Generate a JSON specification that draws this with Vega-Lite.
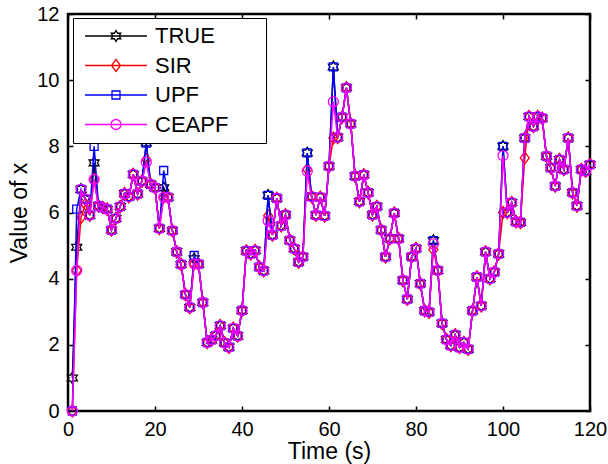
{
  "$schema": "https://vega.github.io/schema/vega-lite/v6.json",
  "width": 522,
  "height": 397,
  "autosize": "none",
  "padding": {"left": 68, "top": 14, "right": 18, "bottom": 53},
  "background": "white",
  "data": {"values": [
    {"t":1,"TRUE":1.0,"SIR":0,"UPF":0,"CEAPF":0},
    {"t":2,"TRUE":4.95,"SIR":4.25,"UPF":6.1,"CEAPF":4.25},
    {"t":3,"TRUE":6.7,"SIR":5.85,"UPF":6.7,"CEAPF":6.7},
    {"t":4,"TRUE":6.4,"SIR":6.25,"UPF":6.4,"CEAPF":6.4},
    {"t":5,"TRUE":5.92,"SIR":5.92,"UPF":5.92,"CEAPF":5.92},
    {"t":6,"TRUE":7.5,"SIR":7.0,"UPF":8.0,"CEAPF":7.0},
    {"t":7,"TRUE":6.2,"SIR":6.2,"UPF":6.2,"CEAPF":6.2},
    {"t":8,"TRUE":6.15,"SIR":6.15,"UPF":6.15,"CEAPF":6.15},
    {"t":9,"TRUE":6.1,"SIR":6.1,"UPF":6.1,"CEAPF":6.1},
    {"t":10,"TRUE":5.47,"SIR":5.47,"UPF":5.47,"CEAPF":5.47},
    {"t":11,"TRUE":5.82,"SIR":5.82,"UPF":5.82,"CEAPF":5.82},
    {"t":12,"TRUE":6.18,"SIR":6.18,"UPF":6.18,"CEAPF":6.18},
    {"t":13,"TRUE":6.57,"SIR":6.57,"UPF":6.57,"CEAPF":6.57},
    {"t":14,"TRUE":6.48,"SIR":6.48,"UPF":6.48,"CEAPF":6.48},
    {"t":15,"TRUE":7.15,"SIR":7.15,"UPF":7.15,"CEAPF":7.15},
    {"t":16,"TRUE":6.56,"SIR":6.56,"UPF":6.56,"CEAPF":6.56},
    {"t":17,"TRUE":6.95,"SIR":6.95,"UPF":6.95,"CEAPF":6.95},
    {"t":18,"TRUE":8.1,"SIR":7.6,"UPF":8.1,"CEAPF":7.52},
    {"t":19,"TRUE":6.85,"SIR":6.85,"UPF":6.85,"CEAPF":6.85},
    {"t":20,"TRUE":6.75,"SIR":6.75,"UPF":6.75,"CEAPF":6.75},
    {"t":21,"TRUE":5.52,"SIR":5.52,"UPF":5.52,"CEAPF":5.52},
    {"t":22,"TRUE":6.75,"SIR":6.46,"UPF":7.27,"CEAPF":6.46},
    {"t":23,"TRUE":6.46,"SIR":6.46,"UPF":6.46,"CEAPF":6.46},
    {"t":24,"TRUE":5.45,"SIR":5.45,"UPF":5.45,"CEAPF":5.45},
    {"t":25,"TRUE":4.81,"SIR":4.81,"UPF":4.81,"CEAPF":4.81},
    {"t":26,"TRUE":4.43,"SIR":4.43,"UPF":4.43,"CEAPF":4.43},
    {"t":27,"TRUE":3.52,"SIR":3.52,"UPF":3.52,"CEAPF":3.52},
    {"t":28,"TRUE":3.13,"SIR":3.13,"UPF":3.13,"CEAPF":3.13},
    {"t":29,"TRUE":4.6,"SIR":4.45,"UPF":4.7,"CEAPF":4.45},
    {"t":30,"TRUE":4.44,"SIR":4.44,"UPF":4.44,"CEAPF":4.44},
    {"t":31,"TRUE":3.28,"SIR":3.28,"UPF":3.28,"CEAPF":3.28},
    {"t":32,"TRUE":2.07,"SIR":2.07,"UPF":2.07,"CEAPF":2.07},
    {"t":33,"TRUE":2.15,"SIR":2.15,"UPF":2.15,"CEAPF":2.15},
    {"t":34,"TRUE":2.28,"SIR":2.28,"UPF":2.28,"CEAPF":2.28},
    {"t":35,"TRUE":2.58,"SIR":2.58,"UPF":2.58,"CEAPF":2.58},
    {"t":36,"TRUE":2.06,"SIR":2.06,"UPF":2.06,"CEAPF":2.06},
    {"t":37,"TRUE":1.93,"SIR":1.93,"UPF":1.93,"CEAPF":1.93},
    {"t":38,"TRUE":2.5,"SIR":2.5,"UPF":2.5,"CEAPF":2.5},
    {"t":39,"TRUE":2.27,"SIR":2.27,"UPF":2.27,"CEAPF":2.27},
    {"t":40,"TRUE":3.04,"SIR":3.04,"UPF":3.04,"CEAPF":3.04},
    {"t":41,"TRUE":4.84,"SIR":4.84,"UPF":4.84,"CEAPF":4.84},
    {"t":42,"TRUE":4.75,"SIR":4.75,"UPF":4.75,"CEAPF":4.75},
    {"t":43,"TRUE":4.85,"SIR":4.85,"UPF":4.85,"CEAPF":4.85},
    {"t":44,"TRUE":4.35,"SIR":4.35,"UPF":4.35,"CEAPF":4.35},
    {"t":45,"TRUE":4.24,"SIR":4.24,"UPF":4.24,"CEAPF":4.24},
    {"t":46,"TRUE":6.52,"SIR":5.9,"UPF":6.52,"CEAPF":5.75},
    {"t":47,"TRUE":5.32,"SIR":5.32,"UPF":5.32,"CEAPF":5.32},
    {"t":48,"TRUE":6.43,"SIR":6.43,"UPF":6.43,"CEAPF":6.43},
    {"t":49,"TRUE":5.6,"SIR":5.6,"UPF":5.6,"CEAPF":5.6},
    {"t":50,"TRUE":5.93,"SIR":5.93,"UPF":5.93,"CEAPF":5.93},
    {"t":51,"TRUE":5.16,"SIR":5.16,"UPF":5.16,"CEAPF":5.16},
    {"t":52,"TRUE":4.91,"SIR":4.91,"UPF":4.91,"CEAPF":4.91},
    {"t":53,"TRUE":4.5,"SIR":4.5,"UPF":4.5,"CEAPF":4.5},
    {"t":54,"TRUE":4.66,"SIR":4.66,"UPF":4.66,"CEAPF":4.66},
    {"t":55,"TRUE":7.8,"SIR":7.3,"UPF":7.8,"CEAPF":7.25},
    {"t":56,"TRUE":6.48,"SIR":6.48,"UPF":6.48,"CEAPF":6.48},
    {"t":57,"TRUE":5.92,"SIR":5.92,"UPF":5.92,"CEAPF":5.92},
    {"t":58,"TRUE":6.46,"SIR":6.46,"UPF":6.46,"CEAPF":6.46},
    {"t":59,"TRUE":5.9,"SIR":5.9,"UPF":5.9,"CEAPF":5.9},
    {"t":60,"TRUE":7.4,"SIR":7.4,"UPF":7.4,"CEAPF":7.4},
    {"t":61,"TRUE":10.4,"SIR":8.25,"UPF":10.4,"CEAPF":9.35},
    {"t":62,"TRUE":8.27,"SIR":8.27,"UPF":8.27,"CEAPF":8.27},
    {"t":63,"TRUE":8.88,"SIR":8.88,"UPF":8.88,"CEAPF":8.88},
    {"t":64,"TRUE":9.77,"SIR":9.77,"UPF":9.77,"CEAPF":9.77},
    {"t":65,"TRUE":8.68,"SIR":8.68,"UPF":8.68,"CEAPF":8.68},
    {"t":66,"TRUE":7.1,"SIR":7.1,"UPF":7.1,"CEAPF":7.1},
    {"t":67,"TRUE":6.33,"SIR":6.33,"UPF":6.33,"CEAPF":6.33},
    {"t":68,"TRUE":7.14,"SIR":7.14,"UPF":7.14,"CEAPF":7.14},
    {"t":69,"TRUE":6.6,"SIR":6.6,"UPF":6.6,"CEAPF":6.6},
    {"t":70,"TRUE":5.93,"SIR":5.93,"UPF":5.93,"CEAPF":5.93},
    {"t":71,"TRUE":6.18,"SIR":6.18,"UPF":6.18,"CEAPF":6.18},
    {"t":72,"TRUE":5.47,"SIR":5.47,"UPF":5.47,"CEAPF":5.47},
    {"t":73,"TRUE":4.66,"SIR":4.66,"UPF":4.66,"CEAPF":4.66},
    {"t":74,"TRUE":5.21,"SIR":5.21,"UPF":5.21,"CEAPF":5.21},
    {"t":75,"TRUE":5.98,"SIR":5.98,"UPF":5.98,"CEAPF":5.98},
    {"t":76,"TRUE":5.21,"SIR":5.21,"UPF":5.21,"CEAPF":5.21},
    {"t":77,"TRUE":3.95,"SIR":3.95,"UPF":3.95,"CEAPF":3.95},
    {"t":78,"TRUE":3.38,"SIR":3.38,"UPF":3.38,"CEAPF":3.38},
    {"t":79,"TRUE":4.66,"SIR":4.66,"UPF":4.66,"CEAPF":4.66},
    {"t":80,"TRUE":4.91,"SIR":4.91,"UPF":4.91,"CEAPF":4.91},
    {"t":81,"TRUE":3.85,"SIR":3.85,"UPF":3.85,"CEAPF":3.85},
    {"t":82,"TRUE":3.03,"SIR":3.03,"UPF":3.03,"CEAPF":3.03},
    {"t":83,"TRUE":2.99,"SIR":2.99,"UPF":2.99,"CEAPF":2.99},
    {"t":84,"TRUE":5.15,"SIR":4.88,"UPF":5.15,"CEAPF":5.05},
    {"t":85,"TRUE":4.25,"SIR":4.25,"UPF":4.25,"CEAPF":4.25},
    {"t":86,"TRUE":2.65,"SIR":2.65,"UPF":2.65,"CEAPF":2.65},
    {"t":87,"TRUE":2.16,"SIR":2.16,"UPF":2.16,"CEAPF":2.16},
    {"t":88,"TRUE":1.98,"SIR":1.98,"UPF":1.98,"CEAPF":1.98},
    {"t":89,"TRUE":2.3,"SIR":2.3,"UPF":2.3,"CEAPF":2.3},
    {"t":90,"TRUE":1.92,"SIR":1.92,"UPF":1.92,"CEAPF":1.92},
    {"t":91,"TRUE":2.07,"SIR":2.07,"UPF":2.07,"CEAPF":2.07},
    {"t":92,"TRUE":1.87,"SIR":1.87,"UPF":1.87,"CEAPF":1.87},
    {"t":93,"TRUE":3.03,"SIR":3.03,"UPF":3.03,"CEAPF":3.03},
    {"t":94,"TRUE":4.05,"SIR":4.05,"UPF":4.05,"CEAPF":4.05},
    {"t":95,"TRUE":3.18,"SIR":3.18,"UPF":3.18,"CEAPF":3.18},
    {"t":96,"TRUE":4.81,"SIR":4.81,"UPF":4.81,"CEAPF":4.81},
    {"t":97,"TRUE":4.0,"SIR":4.0,"UPF":4.0,"CEAPF":4.0},
    {"t":98,"TRUE":4.2,"SIR":4.2,"UPF":4.2,"CEAPF":4.2},
    {"t":99,"TRUE":4.75,"SIR":4.75,"UPF":4.75,"CEAPF":4.75},
    {"t":100,"TRUE":8.0,"SIR":6.0,"UPF":8.0,"CEAPF":7.72},
    {"t":101,"TRUE":6.0,"SIR":6.0,"UPF":6.0,"CEAPF":6.0},
    {"t":102,"TRUE":6.3,"SIR":6.3,"UPF":6.3,"CEAPF":6.3},
    {"t":103,"TRUE":5.72,"SIR":5.72,"UPF":5.72,"CEAPF":5.72},
    {"t":104,"TRUE":5.7,"SIR":5.7,"UPF":5.7,"CEAPF":5.7},
    {"t":105,"TRUE":8.25,"SIR":7.65,"UPF":8.25,"CEAPF":8.25},
    {"t":106,"TRUE":8.9,"SIR":8.9,"UPF":8.9,"CEAPF":8.9},
    {"t":107,"TRUE":8.6,"SIR":8.6,"UPF":8.6,"CEAPF":8.6},
    {"t":108,"TRUE":8.9,"SIR":8.9,"UPF":8.9,"CEAPF":8.9},
    {"t":109,"TRUE":8.85,"SIR":8.85,"UPF":8.85,"CEAPF":8.85},
    {"t":110,"TRUE":7.7,"SIR":7.7,"UPF":7.7,"CEAPF":7.7},
    {"t":111,"TRUE":7.35,"SIR":7.35,"UPF":7.35,"CEAPF":7.35},
    {"t":112,"TRUE":6.8,"SIR":6.8,"UPF":6.8,"CEAPF":6.8},
    {"t":113,"TRUE":7.6,"SIR":7.6,"UPF":7.6,"CEAPF":7.6},
    {"t":114,"TRUE":7.3,"SIR":7.3,"UPF":7.3,"CEAPF":7.3},
    {"t":115,"TRUE":8.25,"SIR":8.25,"UPF":8.25,"CEAPF":8.25},
    {"t":116,"TRUE":6.6,"SIR":6.6,"UPF":6.6,"CEAPF":6.6},
    {"t":117,"TRUE":6.2,"SIR":6.2,"UPF":6.2,"CEAPF":6.2},
    {"t":118,"TRUE":7.3,"SIR":7.3,"UPF":7.3,"CEAPF":7.3},
    {"t":119,"TRUE":7.25,"SIR":7.25,"UPF":7.25,"CEAPF":7.25},
    {"t":120,"TRUE":7.45,"SIR":7.45,"UPF":7.45,"CEAPF":7.45}
  ]},
  "config": {
    "view": {"stroke": "black", "strokeWidth": 2.5},
    "font": "Liberation Sans",
    "axis": {
      "grid": false, "domain": false, "tickColor": "black", "tickSize": -5, "tickWidth": 1.5,
      "labelFontSize": 20, "labelColor": "black", "labelFont": "Liberation Sans",
      "titleFontSize": 23, "titleFontWeight": "normal", "titleColor": "black", "titleFont": "Liberation Sans",
      "labelFlush": false, "labelOverlap": false
    }
  },
  "encoding": {
    "x": {"field": "t", "type": "quantitative", "scale": {"domain": [0, 120], "nice": false}, "axis": null}
  },
  "layer": [
    {
      "mark": {"type": "point", "opacity": 0},
      "encoding": {
        "x": {"field": "t", "type": "quantitative", "scale": {"domain": [0, 120], "nice": false},
              "axis": {"orient": "bottom", "values": [0, 20, 40, 60, 80, 100, 120], "title": "Time (s)", "labelPadding": 13, "titlePadding": 1}},
        "y": {"field": "TRUE", "type": "quantitative", "scale": {"domain": [0, 12], "nice": false},
              "axis": {"orient": "left", "values": [0, 2, 4, 6, 8, 10, 12], "title": "Value of x", "labelPadding": 14, "titlePadding": 5}}
      }
    },
    {
      "mark": {"type": "point", "opacity": 0},
      "encoding": {
        "x": {"field": "t", "type": "quantitative", "scale": {"domain": [0, 120], "nice": false},
              "axis": {"orient": "top", "values": [0, 20, 40, 60, 80, 100, 120], "labels": false, "title": null}},
        "y": {"field": "TRUE", "type": "quantitative", "scale": {"domain": [0, 12], "nice": false},
              "axis": {"orient": "right", "values": [0, 2, 4, 6, 8, 10, 12], "labels": false, "title": null}}
      }
    },
    {
      "mark": {"type": "line", "strokeWidth": 1.5},
      "encoding": {
        "y": {"field": "TRUE", "type": "quantitative", "scale": {"domain": [0, 12], "nice": false}, "axis": null},
        "color": {"datum": "TRUE", "title": null,
          "scale": {"domain": ["TRUE", "SIR", "UPF", "CEAPF"], "range": ["#000000", "#ff0000", "#0000ff", "#ff00ff"]},
          "legend": {
            "orient": "none", "legendX": 5, "legendY": 4, "title": null,
            "strokeColor": "black", "fillColor": "white", "padding": 7,
            "labelFontSize": 22, "labelColor": "black", "labelFont": "Liberation Sans",
            "labelExpr": "datum.label + '\u00a0\u00a0\u00a0\u00a0\u00a0\u200b'",
            "symbolSize": 100, "symbolStrokeWidth": 1.3, "symbolOffset": 25, "labelOffset": 28, "rowPadding": 7.5,
            "encode": {"symbols": {"update": {
              "fill": {"value": "transparent"},
              "shape": {"signal": "datum.value === 'TRUE' ? 'M-6.2,0L6.2,0M0,-1.1L0.3175,-0.55L0.953,-0.55L0.635,0L0.953,0.55L0.3175,0.55L0,1.1L-0.3175,0.55L-0.953,0.55L-0.635,0L-0.953,-0.55L-0.3175,-0.55Z' : datum.value === 'SIR' ? 'M-6.2,0L6.2,0M0,-1.2L0.9,0L0,1.2L-0.9,0Z' : datum.value === 'UPF' ? 'M-6.2,0L6.2,0M-0.8,-0.8L0.8,-0.8L0.8,0.8L-0.8,0.8Z' : 'M-6.2,0L6.2,0M1,0A1,1,0,1,1,-1,0A1,1,0,1,1,1,0Z'"}
            }}}
          }
        }
      }
    },
    {
      "mark": {"type": "point", "filled": false, "size": 110, "strokeWidth": 1.3, "opacity": 1,
               "shape": "M0,-1.1L0.3175,-0.55L0.953,-0.55L0.635,0L0.953,0.55L0.3175,0.55L0,1.1L-0.3175,0.55L-0.953,0.55L-0.635,0L-0.953,-0.55L-0.3175,-0.55Z"},
      "encoding": {
        "y": {"field": "TRUE", "type": "quantitative", "scale": {"domain": [0, 12], "nice": false}, "axis": null},
        "color": {"datum": "TRUE"}
      }
    },
    {
      "mark": {"type": "line", "strokeWidth": 1.5},
      "encoding": {
        "y": {"field": "SIR", "type": "quantitative", "scale": {"domain": [0, 12], "nice": false}, "axis": null},
        "color": {"datum": "SIR"}
      }
    },
    {
      "mark": {"type": "point", "filled": false, "size": 100, "strokeWidth": 1.3, "opacity": 1,
               "shape": "M0,-1.2L0.9,0L0,1.2L-0.9,0Z"},
      "encoding": {
        "y": {"field": "SIR", "type": "quantitative", "scale": {"domain": [0, 12], "nice": false}, "axis": null},
        "color": {"datum": "SIR"}
      }
    },
    {
      "mark": {"type": "line", "strokeWidth": 1.5},
      "encoding": {
        "y": {"field": "UPF", "type": "quantitative", "scale": {"domain": [0, 12], "nice": false}, "axis": null},
        "color": {"datum": "UPF"}
      }
    },
    {
      "mark": {"type": "point", "filled": false, "size": 100, "strokeWidth": 1.3, "opacity": 1,
               "shape": "M-0.8,-0.8L0.8,-0.8L0.8,0.8L-0.8,0.8Z"},
      "encoding": {
        "y": {"field": "UPF", "type": "quantitative", "scale": {"domain": [0, 12], "nice": false}, "axis": null},
        "color": {"datum": "UPF"}
      }
    },
    {
      "mark": {"type": "line", "strokeWidth": 1.5},
      "encoding": {
        "y": {"field": "CEAPF", "type": "quantitative", "scale": {"domain": [0, 12], "nice": false}, "axis": null},
        "color": {"datum": "CEAPF"}
      }
    },
    {
      "mark": {"type": "point", "filled": false, "size": 100, "strokeWidth": 1.3, "opacity": 1,
               "shape": "M1,0A1,1,0,1,1,-1,0A1,1,0,1,1,1,0Z"},
      "encoding": {
        "y": {"field": "CEAPF", "type": "quantitative", "scale": {"domain": [0, 12], "nice": false}, "axis": null},
        "color": {"datum": "CEAPF"}
      }
    }
  ],
  "resolve": {"axis": {"x": "independent", "y": "independent"}}
}
